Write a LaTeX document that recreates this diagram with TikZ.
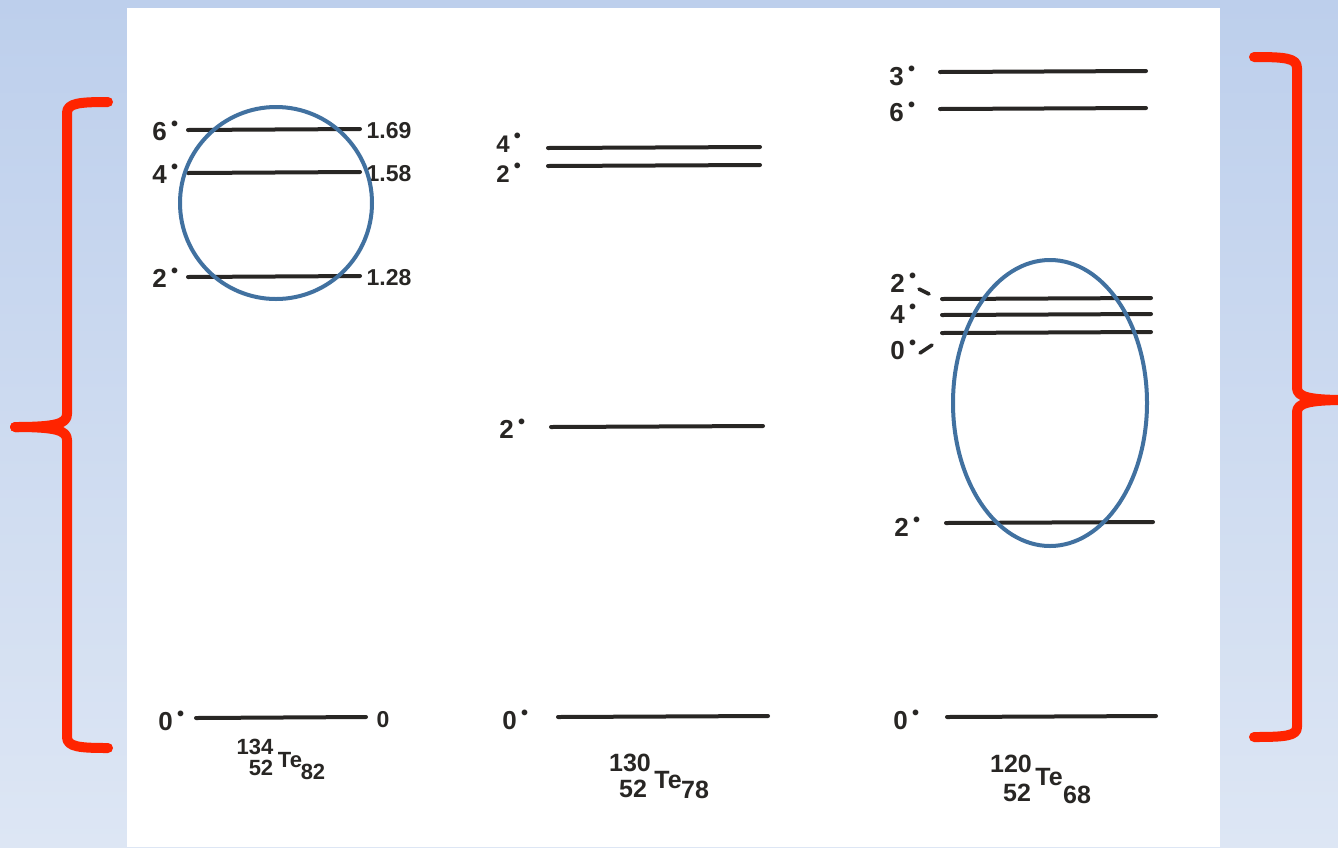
\documentclass[tikz,border=0pt]{standalone}
\usepackage{fontspec}
\setmainfont{Liberation Sans}
\definecolor{bgtop}{RGB}{189,207,236}
\definecolor{bgbot}{RGB}{221,230,244}
\definecolor{bracered}{RGB}{255,36,0}
\definecolor{ringblue}{RGB}{65,113,160}
\definecolor{ink}{RGB}{40,38,36}
\newcommand\spn[1]{#1\,\raisebox{0.4em}{\fontsize{10}{10}\selectfont •}}
\tikzset{
  lev/.style={draw=ink,line width=2pt,line cap=round},
  spin/.style={text=ink,font=\fontsize{13}{13}\selectfont\bfseries,inner sep=0pt,anchor=west},
  spinsm/.style={spin,font=\fontsize{12}{12}\selectfont\bfseries},
  eng/.style={text=ink,font=\fontsize{11.5}{11.5}\selectfont\bfseries,inner sep=0pt},
  iso/.style={text=ink,font=\fontsize{11}{11}\selectfont\bfseries,inner sep=0pt},
  isob/.style={text=ink,font=\fontsize{12.5}{12.5}\selectfont\bfseries,inner sep=0pt},
  brace/.style={draw=bracered,line width=5pt,line cap=round,line join=round},
  ring/.style={draw=ringblue,line width=2pt},
}
\begin{document}
\begin{tikzpicture}[x=0.5pt,y=-0.5pt]
\useasboundingbox (0,0) rectangle (1338,847);
\shade[top color=bgtop,bottom color=bgbot] (0,0) rectangle (1338,847);
\fill[white] (127,8) rectangle (1220,847);

% ---- left column: 134Te ----
\draw[lev] (188,130) -- (360,129);
\draw[lev] (188,173) -- (360,172);
\draw[lev] (188,277) -- (360,276);
\draw[lev] (196,718) -- (366,717);
\node[spin] (a6) at (152,131) {\spn{6}};
\node[spin] (a4) at (152,174) {\spn{4}};
\node[spin] (a2) at (152,278) {\spn{2}};
\node[spin] (a0) at (158,721) {\spn{0}};
\node[eng] (e6) at (389,131) {1.69};
\node[eng] (e4) at (389,174) {1.58};
\node[eng] (e2) at (389,278) {1.28};
\node[eng] (e0) at (383,720) {0};
\node[iso] (ta1) at (255,747) {134};
\node[iso] (ta2) at (261,768) {52};
\node[iso] (ta3) at (290,760) {Te};
\node[iso] (ta4) at (313,772) {82};

% ---- middle column: 130Te ----
\draw[lev] (548,148) -- (760,147);
\draw[lev] (548,166) -- (760,165);
\draw[lev] (551,427) -- (763,426);
\draw[lev] (558,717) -- (768,716);
\node[spinsm] (b4) at (496,143) {\spn{4}};
\node[spinsm] (b2) at (496,173) {\spn{2}};
\node[spin] (b2b) at (499,429) {\spn{2}};
\node[spin] (b0) at (502,720) {\spn{0}};
\node[isob] (tb1) at (630,763) {130};
\node[isob] (tb2) at (633,789) {52};
\node[isob] (tb3) at (668,780) {Te};
\node[isob] (tb4) at (695,790) {78};

% ---- right column: 120Te ----
\draw[lev] (940,72) -- (1146,71);
\draw[lev] (940,109) -- (1146,108);
\draw[lev] (942,299) -- (1151,298);
\draw[lev] (942,315) -- (1151,314);
\draw[lev] (942,333) -- (1151,332);
\draw[lev] (946,523) -- (1153,522);
\draw[lev] (947,717) -- (1156,716);
\node[spin] (c3) at (889,76) {\spn{3}};
\node[spin] (c6) at (889,112) {\spn{6}};
\node[spin] (c2) at (890,283) {\spn{2}};
\node[spin] (c4) at (890,314) {\spn{4}};
\node[spin] (c0) at (890,350) {\spn{0}};
\draw[lev,line width=1.8pt] (919,289) -- (929,294);
\draw[lev,line width=1.8pt] (920,353) -- (932,345);
\node[spin] (c2b) at (894,527) {\spn{2}};
\node[spin] (c0b) at (893,720) {\spn{0}};
\node[isob] (tc1) at (1011,764) {120};
\node[isob] (tc2) at (1017,793) {52};
\node[isob] (tc3) at (1049,777) {Te};
\node[isob] (tc4) at (1077,795) {68};

% ---- highlight rings ----
\draw[ring] (276,203) circle [radius=48pt];
\draw[ring] (1050,403) ellipse [x radius=48.5pt, y radius=71.5pt];

% ---- braces ----
\draw[brace] (108,102) .. controls (80,102) and (67,103) .. (67,113) -- (67,414)
  .. controls (67,424) and (55,427) .. (15,427);
\draw[brace] (15,427) .. controls (55,427) and (67,430) .. (67,440) -- (67,737)
  .. controls (67,747) and (80,748) .. (108,748);
\draw[brace] (1254,57) .. controls (1285,57) and (1297,58) .. (1297,68) -- (1297,388)
  .. controls (1297,397) and (1310,400) .. (1345,400);
\draw[brace] (1345,400) .. controls (1310,400) and (1297,403) .. (1297,412) -- (1297,727)
  .. controls (1297,736) and (1285,737) .. (1254,737);
\end{tikzpicture}
\end{document}
